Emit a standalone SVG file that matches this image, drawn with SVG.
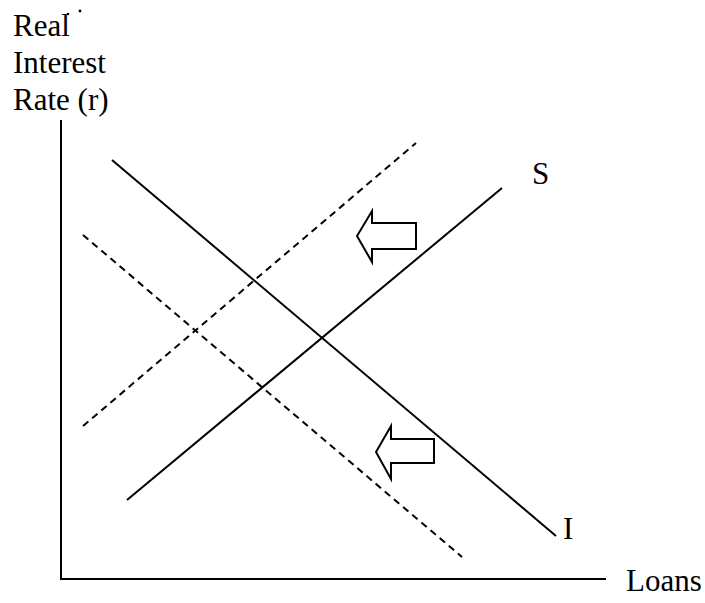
<svg xmlns="http://www.w3.org/2000/svg" width="705" height="603" viewBox="0 0 705 603">
<style>
text{font-family:"Liberation Serif","Times New Roman",serif;font-size:31px;fill:#000}
.solid{stroke:#000;stroke-width:2;fill:none}
.dash{stroke:#000;stroke-width:2;fill:none;stroke-dasharray:7,5}
.arr{stroke:#000;stroke-width:2;fill:#fff;stroke-linejoin:miter}
</style>
<rect width="705" height="603" fill="#fff"/>
<g id="axes">
<line class="solid" x1="61" y1="120" x2="61" y2="579"/>
<line class="solid" x1="60" y1="579" x2="606" y2="579"/>
</g>
<g id="y-label">
<text x="13" y="36">Real</text>
<text x="13" y="73">Interest</text>
<text x="13" y="110">Rate (r)</text>
<circle cx="80" cy="11" r="1.4" fill="#000"/>
<circle cx="68" cy="14" r="1.3" fill="#000"/>
</g>
<g id="connectors">
<line id="I" class="solid" x1="112" y1="160" x2="556" y2="536"/>
<line id="S" class="solid" x1="127" y1="500" x2="502" y2="188"/>
<line id="S2" class="dash" x1="83" y1="426" x2="416" y2="143"/>
<line id="I2" class="dash" x1="83" y1="235" x2="462" y2="557"/>
</g>
<g id="arrow-top">
<polygon class="arr" points="357,236 372,211 372,223 416,223 416,249 372,249 372,262"/>
</g>
<g id="arrow-bottom">
<polygon class="arr" points="376,452 391,426 391,439 434,439 434,463 391,463 391,479"/>
</g>
<g id="labels">
<text x="532" y="184">S</text>
<text x="563" y="539">I</text>
<text x="626" y="591">Loans</text>
</g>
</svg>
